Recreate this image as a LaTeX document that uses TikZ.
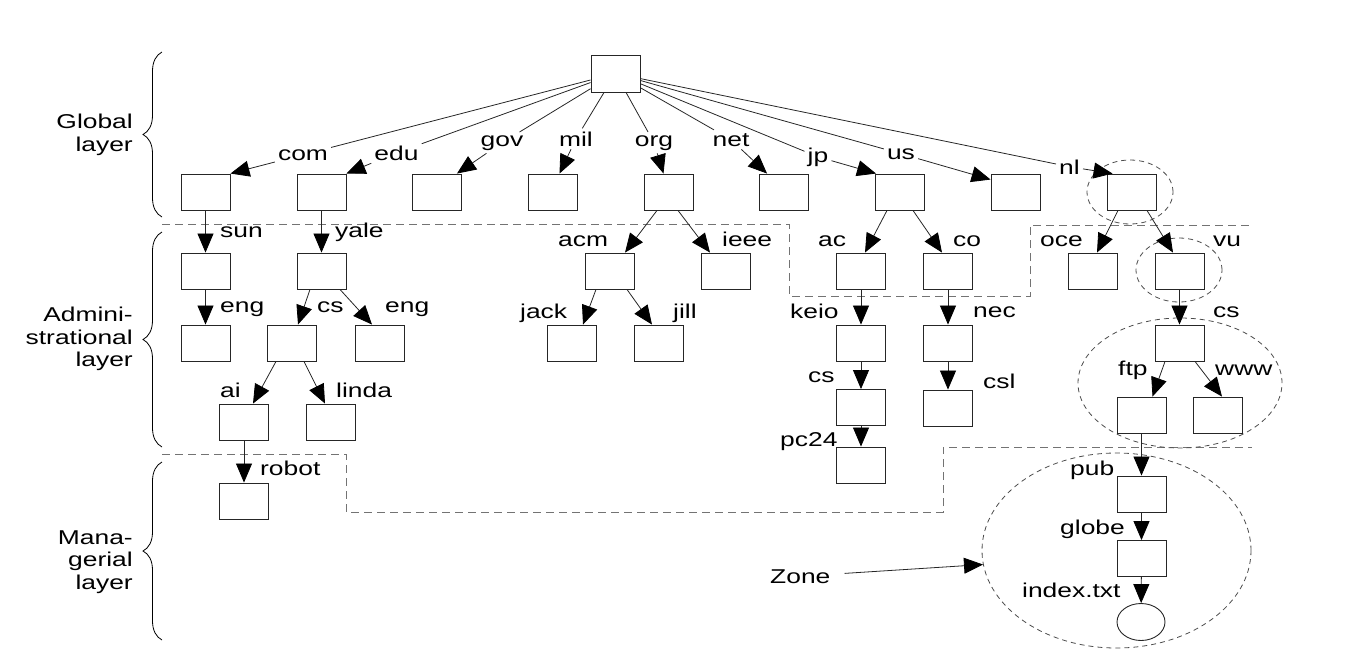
\documentclass[tikz,border=0pt]{standalone}
\usepackage{fontspec}
\setmainfont{Liberation Sans}
\usepackage{graphicx}
\usetikzlibrary{arrows.meta,decorations.pathreplacing,shapes.geometric}
\newcommand{\wtxt}[1]{\scalebox{1.32}[1]{#1}}
\begin{document}
\begin{tikzpicture}[x=1pt,y=-1pt,
  bx/.style={draw=black!85, line width=0.9pt, minimum width=49pt, minimum height=36pt, inner sep=0pt},
  lab/.style={font=\fontsize{20}{22.5}\selectfont, inner sep=0pt, anchor=base west},
  elab/.style={font=\fontsize{20}{22.5}\selectfont, inner sep=3pt, anchor=base},
  con/.style={draw=black!85, line width=0.8pt},
  arr/.style={con, -{Triangle[length=19pt,width=16pt,color=black]}},
  layerline/.style={draw=black!55, line width=0.9pt, dash pattern=on 8pt off 5pt},
  zone/.style={draw=black!70, line width=0.8pt, dash pattern=on 5pt off 4pt, ellipse, inner sep=0pt},
  brc/.style={draw=black, line width=0.8pt, decorate, decoration={brace, amplitude=19pt}},
  layerlab/.style={font=\fontsize{20}{22.5}\selectfont, align=right, anchor=east, inner sep=0pt}
]
\useasboundingbox (0,0) rectangle (1366,654);

% layer boundaries
\draw[layerline] (162,224) -- (789,224) -- (789,296) -- (1030,296) -- (1030,225) -- (1252,225);
\draw[layerline] (162,454) -- (346,454) -- (346,512) -- (943,512) -- (943,447) -- (1252,447);

% braces and layer labels
\draw[brc] (162,217) -- (162,52);
\draw[brc] (162,447) -- (162,232);
\draw[brc] (162,640) -- (162,462);
\node[layerlab] (gl) at (133,135) {\wtxt{Global}\\\wtxt{layer}};
\node[layerlab] (al) at (133,339) {\wtxt{Admini-}\\\wtxt{strational}\\\wtxt{layer}};
\node[layerlab] (ml) at (133,562) {\wtxt{Mana-}\\\wtxt{gerial}\\\wtxt{layer}};

% zones
\node[zone, minimum width=86pt, minimum height=64pt] (znl) at (1130,192) {};
\node[zone, minimum width=86pt, minimum height=64pt] (zvu) at (1179,270) {};
\node[zone, minimum width=204pt, minimum height=130pt] (zcs) at (1180,383) {};
\node[zone, minimum width=269pt, minimum height=195pt] (zpub) at (1116.5,550.5) {};

% boxes
\node[bx, minimum height=37pt] (root) at (615.5,73.5) {};
\node[bx] (com) at (205.5,192) {};
\node[bx] (edu) at (321.5,192) {};
\node[bx] (gov) at (437,192) {};
\node[bx] (mil) at (552.5,192) {};
\node[bx] (org) at (668.5,192) {};
\node[bx] (net) at (784,192) {};
\node[bx] (jp) at (900,192) {};
\node[bx] (us) at (1015.5,192) {};
\node[bx] (nl) at (1131.5,192) {};

\node[bx] (sun) at (205.5,271) {};
\node[bx] (yale) at (321.5,271) {};
\node[bx] (acm) at (610,271) {};
\node[bx] (ieee) at (726,271) {};
\node[bx] (ac) at (861,271) {};
\node[bx] (co) at (948,271) {};
\node[bx] (oce) at (1092.5,271) {};
\node[bx] (vu) at (1179.5,271) {};

\node[bx] (eng1) at (205.5,343) {};
\node[bx] (cs1) at (291.5,343) {};
\node[bx] (eng2) at (379.5,343) {};
\node[bx] (jack) at (572,343) {};
\node[bx] (jill) at (658.5,343) {};
\node[bx] (keio) at (861,343) {};
\node[bx] (nec) at (948,343) {};
\node[bx] (cs3) at (1179.5,343) {};

\node[bx] (ai) at (244,422) {};
\node[bx] (linda) at (331,422) {};
\node[bx] (cs2) at (861,407.5) {};
\node[bx] (csl) at (948,408) {};
\node[bx] (ftp) at (1141.5,415) {};
\node[bx] (www) at (1217.5,415) {};

\node[bx] (pc24) at (861,465) {};
\node[bx] (robot) at (244,501) {};
\node[bx] (pub) at (1141.5,494) {};
\node[bx] (globe) at (1141.5,558.5) {};
\node[draw=black!85, line width=0.9pt, ellipse, minimum width=48pt, minimum height=37pt, inner sep=0pt] (file) at (1141,622) {};

% top-level labels on the edges
\node[elab] (lcom) at (303,160) {\wtxt{com}};
\node[elab] (ledu) at (396.5,160) {\wtxt{edu}};
\node[elab] (lgov) at (502,146) {\wtxt{gov}};
\node[elab] (lmil) at (576,146) {\wtxt{mil}};
\node[elab] (lorg) at (654,146) {\wtxt{org}};
\node[elab] (lnet) at (731,146) {\wtxt{net}};
\node[elab] (ljp) at (818,162) {\wtxt{jp}};
\node[elab] (lus) at (901,159) {\wtxt{us}};
\node[elab] (lnl) at (1069.5,174) {\wtxt{nl}};

\foreach \l in {com,edu,gov,mil,org,net,jp,us,nl} {\draw[con] (root) -- (l\l);}
\draw[arr] (lcom) -- (com.north east);
\draw[arr] (ledu) -- (edu.north east);
\draw[arr] (lgov) -- ([xshift=-5pt]gov.north east);
\draw[arr] (lmil) -- ([xshift=7pt]mil.north);
\draw[arr] (lorg) -- ([xshift=-5pt]org.north);
\draw[arr] (lnet) -- ([xshift=8pt]net.north west);
\draw[arr] (ljp) -- ([xshift=1pt]jp.north west);
\draw[arr] (lus) -- ([yshift=-6pt]us.north west);
\draw[arr] (lnl) -- ([xshift=6pt]nl.north west);

% side labels
\node[lab] (tsun) at (220,237) {\wtxt{sun}};
\node[lab] (tyale) at (335,237) {\wtxt{yale}};
\node[lab] (tacm) at (558,246) {\wtxt{acm}};
\node[lab] (tieee) at (722,246) {\wtxt{ieee}};
\node[lab] (tac) at (818,246) {\wtxt{ac}};
\node[lab] (tco) at (953,246) {\wtxt{co}};
\node[lab] (toce) at (1040,246) {\wtxt{oce}};
\node[lab] (tvu) at (1213,246) {\wtxt{vu}};
\node[lab] (teng1) at (220,312) {\wtxt{eng}};
\node[lab] (tcs1) at (317,312) {\wtxt{cs}};
\node[lab] (teng2) at (385,312) {\wtxt{eng}};
\node[lab] (tjack) at (520,318) {\wtxt{jack}};
\node[lab] (tjill) at (673,318) {\wtxt{jill}};
\node[lab] (tkeio) at (790,318) {\wtxt{keio}};
\node[lab] (tnec) at (973,317) {\wtxt{nec}};
\node[lab] (tcs3) at (1213,317) {\wtxt{cs}};
\node[lab] (tai) at (220,397) {\wtxt{ai}};
\node[lab] (tlinda) at (336,397) {\wtxt{linda}};
\node[lab] (tcs2) at (808,382) {\wtxt{cs}};
\node[lab] (tcsl) at (983,388) {\wtxt{csl}};
\node[lab] (tftp) at (1118,375) {\wtxt{ftp}};
\node[lab] (twww) at (1215,375) {\wtxt{www}};
\node[lab] (tpc) at (780,446) {\wtxt{pc24}};
\node[lab] (trobot) at (260,475) {\wtxt{robot}};
\node[lab] (tpub) at (1070,475) {\wtxt{pub}};
\node[lab] (tglobe) at (1060,534) {\wtxt{globe}};
\node[lab] (tindex) at (1022,597) {\wtxt{index.txt}};
\node[lab] (tzone) at (770,583) {\wtxt{Zone}};

% lower connectors
\draw[arr] (com) -- (sun);
\draw[arr] (edu) -- (yale);
\draw[arr] ([xshift=-11.5pt]org.south) -- ([xshift=15pt]acm.north);
\draw[arr] ([xshift=9.5pt]org.south) -- ([xshift=-16pt]ieee.north);
\draw[arr] ([xshift=-13pt]jp.south) -- ([xshift=4pt]ac.north);
\draw[arr] ([xshift=13pt]jp.south) -- ([xshift=-6pt]co.north);
\draw[arr] ([xshift=-13.5pt]nl.south) -- ([xshift=4.5pt]oce.north);
\draw[arr] ([xshift=15.5pt]nl.south) -- ([xshift=-6.5pt]vu.north);

\draw[arr] (sun) -- (eng1);
\draw[arr] ([xshift=-11.5pt]yale.south) -- ([xshift=6.5pt]cs1.north);
\draw[arr] ([xshift=18.5pt]yale.south) -- ([xshift=-7.5pt]eng2.north);
\draw[arr] ([xshift=-14pt]acm.south) -- ([xshift=11pt]jack.north);
\draw[arr] ([xshift=17pt]acm.south) -- ([xshift=-6.5pt]jill.north);
\draw[arr] (ac) -- (keio);
\draw[arr] (co) -- (nec);
\draw[arr] (vu) -- (cs3);

\draw[arr] ([xshift=-15.5pt]cs1.south) -- ([xshift=9pt]ai.north);
\draw[arr] ([xshift=12.5pt]cs1.south) -- ([xshift=-6pt]linda.north);
\draw[arr] (keio) -- (cs2);
\draw[arr] (nec) -- (csl);
\draw[arr] ([xshift=-14.5pt]cs3.south) -- ([xshift=11pt]ftp.north);
\draw[arr] ([xshift=15.5pt]cs3.south) -- ([xshift=4.5pt]www.north);

\draw[arr] (cs2) -- (pc24);
\draw[arr] (ai) -- (robot);
\draw[arr] (ftp) -- (pub);
\draw[arr] (pub) -- (globe);
\draw[arr] (globe) -- (file);

\draw[arr, shorten <=14pt] (tzone) -- (zpub.186);
\end{tikzpicture}
\end{document}
